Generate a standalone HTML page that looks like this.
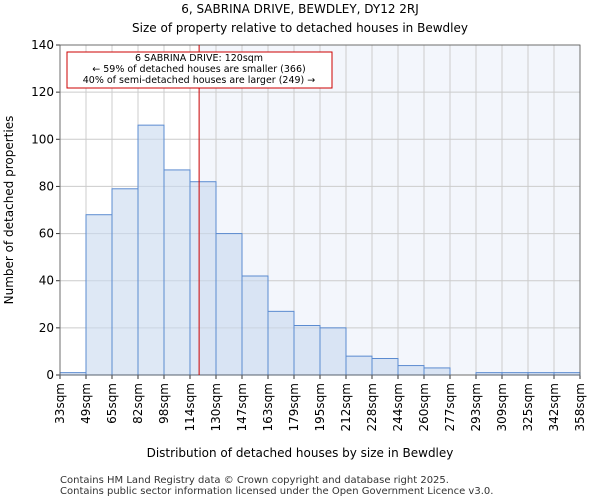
<!DOCTYPE html>
<html><head><meta charset="utf-8"><style>
body{margin:0;background:#fff;font-family:"DejaVu Sans","Liberation Sans",sans-serif}
</style></head><body>
<svg id="c" width="600" height="500" xmlns="http://www.w3.org/2000/svg" font-family="DejaVu Sans, Liberation Sans, sans-serif">
<text x="300" y="13" text-anchor="middle" font-size="12">6, SABRINA DRIVE, BEWDLEY, DY12 2RJ</text>
<text x="300" y="32" text-anchor="middle" font-size="12">Size of property relative to detached houses in Bewdley</text>
<g id="plot"></g>
<text x="300" y="457" text-anchor="middle" font-size="12">Distribution of detached houses by size in Bewdley</text>
<text transform="translate(13,210) rotate(-90)" text-anchor="middle" font-size="12">Number of detached properties</text>
<text x="60" y="483" font-size="10" fill="#333">Contains HM Land Registry data © Crown copyright and database right 2025.</text>
<text x="60" y="494" font-size="10" fill="#333">Contains public sector information licensed under the Open Government Licence v3.0.</text>
</svg>
<script>
const categories=["33sqm","49sqm","65sqm","82sqm","98sqm","114sqm","130sqm","147sqm","163sqm","179sqm","195sqm","212sqm","228sqm","244sqm","260sqm","277sqm","293sqm","309sqm","325sqm","342sqm","358sqm"];
const counts=[1,68,79,106,87,82,60,42,27,21,20,8,7,4,3,0,1,1,1,1];
const yTicks=[0,20,40,60,80,100,120,140];
const binStart=33, binWidth=16.26, propertySize=120;
const L=60,R=580,T=45,B=375,yMax=140;
const NS="http://www.w3.org/2000/svg";
const g=document.getElementById('plot');
const xs=i=>L+i*(R-L)/counts.length;
const xv=v=>L+(v-binStart)/binWidth*(R-L)/counts.length;
const ys=v=>B-v/yMax*(B-T);
function mk(t,a,p){const e=document.createElementNS(NS,t);for(const k in a)e.setAttribute(k,a[k]);(p||g).appendChild(e);return e;}
const px=xv(propertySize);
let sh=mk('rect',{x:px,y:T,width:R-px,height:B-T,fill:'#f3f6fc'});


yTicks.forEach(v=>{
 let l=mk('line',{x1:L,x2:R,y1:ys(v),y2:ys(v),stroke:'#ccc'});
 
 
 let t=mk('text',{x:L-6,y:ys(v)+4,'text-anchor':'end','font-size':12});t.textContent=v;
 
 
 mk('line',{x1:L-4,x2:L,y1:ys(v),y2:ys(v),stroke:'#333'});
});
categories.forEach((c,i)=>{
 let l=mk('line',{x1:xs(i),x2:xs(i),y1:T,y2:B,stroke:'#ccc'});
 
 
 mk('line',{x1:xs(i),x2:xs(i),y1:B,y2:B+4,stroke:'#333'});
 let t=mk('text',{transform:`translate(${xs(i)+4},${B+8}) rotate(-90)`,'text-anchor':'end','font-size':12});t.textContent=c;
 
 
});
counts.forEach((v,i)=>{
 let r=mk('rect',{x:xs(i),y:ys(v),width:(R-L)/counts.length,height:B-ys(v),fill:'rgba(200,216,238,0.6)',stroke:'#5b8bd0','stroke-width':1});
 
 
});
mk('rect',{x:L,y:T,width:R-L,height:B-T,fill:'none',stroke:'#555','stroke-width':0.8});
let pl=mk('line',{x1:px,x2:px,y1:T,y2:B,stroke:'#c00','stroke-width':1});


let box=mk('g',{});


mk('rect',{x:67,y:52,width:265,height:36,fill:'#fff',stroke:'#c00'},box);
[["6 SABRINA DRIVE: 120sqm",61],["← 59% of detached houses are smaller (366)",72],["40% of semi-detached houses are larger (249) →",83]].forEach(([s,y])=>{
 let t=mk('text',{x:199,y:y,'text-anchor':'middle','font-size':9.5},box);t.textContent=s;
});
</script>
</body></html>
